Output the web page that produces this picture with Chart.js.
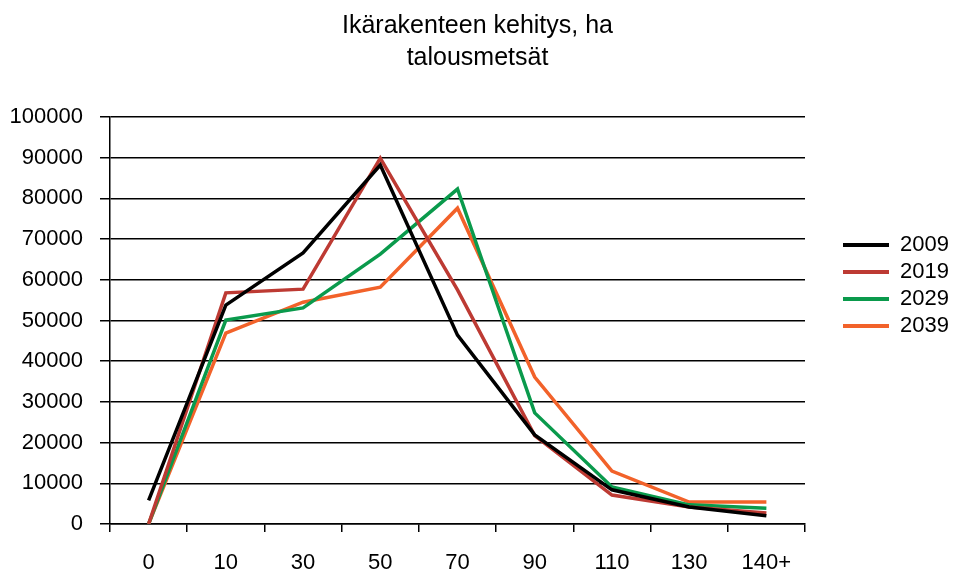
<!DOCTYPE html>
<html>
<head>
<meta charset="utf-8">
<script src="https://cdn.jsdelivr.net/npm/chart.js@4"></script>
<style>
  html, body { margin: 0; padding: 0; background: #fff; }
  #wrap { width: 955px; height: 571px; }
</style>
</head>
<body>
<div id="wrap"><canvas id="chart"></canvas></div>
<script>
const ageClasses = ['0', '10', '30', '50', '70', '90', '110', '130', '140+'];
const years = ['2009', '2019', '2029', '2039'];
const area2009 = [5800, 53800, 66600, 88200, 46400, 21900, 8400, 4200, 2000];
const area2019 = [0, 56800, 57700, 89900, 57500, 21700, 7100, 4200, 2700];
const area2029 = [0, 50100, 53100, 66300, 82300, 27300, 9100, 4700, 3900];
const area2039 = [0, 46900, 54500, 58200, 77600, 36100, 13000, 5400, 5400];
const lineColors = ['#000000', '#BD3A33', '#0A9A4C', '#F2622A'];

const series = [area2009, area2019, area2029, area2039];
const FONT = 'Arial, "Liberation Sans", sans-serif';

// legend column is wider than its items; items sit near its left side
const legendSpace = {
    id: 'legendSpace',
    beforeInit(chart) {
        const legend = chart.legend;
        const fit = legend.fit;
        legend.fit = function () {
            fit.call(this);
            this.width = 150;
        };
        const draw = legend.draw;
        legend.draw = function () {
            const left = this.left;
            this.left = left + 33;
            draw.call(this);
            this.left = left;
        };
    }
};

const ctx = document.getElementById('chart').getContext('2d');
new Chart(ctx, {
    type: 'line',
    data: {
        labels: ageClasses,
        datasets: series.map((values, i) => ({
            label: years[i],
            data: values,
            borderColor: lineColors[i],
            backgroundColor: lineColors[i],
            borderWidth: 3.5,
            pointRadius: 0,
            tension: 0,
            fill: false
        }))
    },
    options: {
        responsive: true,
        maintainAspectRatio: false,
        animation: false,
        layout: { padding: 0 },
        plugins: {
            title: {
                display: true,
                text: ['Ikärakenteen kehitys, ha', 'talousmetsät'],
                color: '#000',
                font: { family: FONT, size: 25, weight: 'normal', lineHeight: 1.28 },
                padding: { top: 10, bottom: 43 }
            },
            legend: {
                position: 'right',
                labels: {
                    color: '#000',
                    boxWidth: 46,
                    boxHeight: 4,
                    padding: 5,
                    font: { family: FONT, size: 22 },
                    generateLabels(chart) {
                        return Chart.defaults.plugins.legend.labels.generateLabels(chart)
                            .map(item => Object.assign(item, { lineWidth: 0 }));
                    }
                }
            },
            tooltip: { enabled: false }
        },
        scales: {
            x: {
                offset: true,
                grid: {
                    offset: true,
                    drawOnChartArea: false,
                    tickLength: 8,
                    color: '#000',
                    lineWidth: 1.5
                },
                border: { color: '#000', width: 1.5 },
                ticks: {
                    color: '#000',
                    padding: 18,
                    maxRotation: 0,
                    font: { family: FONT, size: 22 }
                },
                afterFit(scale) { scale.height = 47; }
            },
            y: {
                min: 0,
                max: 100000,
                grid: {
                    color: '#000',
                    lineWidth: 1.5,
                    tickLength: 10
                },
                border: { color: '#000', width: 1.5 },
                ticks: {
                    stepSize: 10000,
                    color: '#000',
                    padding: 17,
                    font: { family: FONT, size: 22 },
                    callback: v => String(v)
                },
                afterFit(scale) { scale.width = 110; }
            }
        }
    },
    plugins: [legendSpace]
});
</script>
</body>
</html>
